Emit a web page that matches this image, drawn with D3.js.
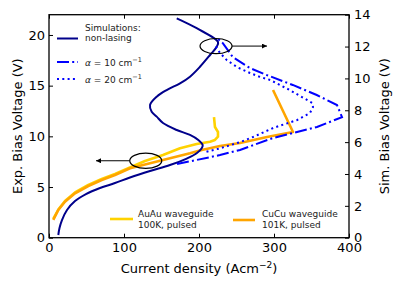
<!DOCTYPE html>
<html>
<head>
<meta charset="utf-8">
<script src="https://cdn.jsdelivr.net/npm/d3@7"></script>
<style>
body { margin: 0; background: #fff; }
text { font-family: 'DejaVu Sans', sans-serif; }
</style>
</head>
<body>
<script>
// current density (A/cm^2) vs bias voltage (V)
// simulations -> right axis, experiment -> left axis
var nonLasingJ = [12.4, 14.0, 17.3, 24.0, 34.7, 49.3, 68.0, 88.0, 108.0, 134.7, 161.3, 183.6, 196.9, 203.6, 204.9, 199.1, 188.0, 170.3, 152.0, 143.6, 136.9, 134.7, 143.6, 156.9, 174.7, 188.0, 201.3, 214.7, 223.6, 225.3, 196.9, 170.3];
var nonLasingV = [0.17, 0.61, 1.11, 1.74, 2.30, 2.74, 3.12, 3.43, 3.78, 4.19, 4.56, 4.97, 5.30, 5.61, 5.82, 6.13, 6.45, 6.76, 7.20, 7.60, 7.91, 8.33, 8.85, 9.27, 9.69, 10.11, 10.73, 11.47, 11.99, 12.29, 13.15, 13.77];

var alpha10J = [170.7, 196.9, 228, 254.7, 298.7, 325.3, 357.3, 390.7, 384, 357, 325, 291, 268, 245, 232, 225];
var alpha10V = [4.63, 4.88, 5.19, 5.51, 6.26, 6.57, 6.95, 7.57, 8.33, 8.96, 9.59, 10.2, 10.65, 11.34, 12.2, 12.5];

var alpha20J = [210, 228, 254.7, 272, 299, 331, 348, 352, 351, 321, 295, 281, 268, 251, 237, 228, 221];
var alpha20V = [5.4, 5.61, 6.0, 6.32, 6.89, 7.39, 7.83, 8.2, 8.46, 9.27, 9.9, 10.1, 10.34, 10.7, 11.15, 11.6, 12.1];

var auauJ = [5.7, 12.4, 21.3, 34.7, 52.4, 70.3, 88, 108, 128, 152, 174.7, 196.9, 214.7, 221.3, 225.3, 225.3, 221.3, 220];
var auauV = [1.85, 2.78, 3.62, 4.46, 5.2, 5.79, 6.28, 6.93, 7.57, 8.16, 8.82, 9.24, 9.47, 9.64, 9.96, 10.43, 10.92, 11.9];

var cucuJ = [5.7, 12.4, 21.3, 34.7, 52.4, 70.3, 88, 108, 134.7, 161.3, 188, 203.6, 228, 254.7, 290.7, 325.3, 298.7];
var cucuV = [1.75, 2.73, 3.55, 4.38, 5.1, 5.69, 6.19, 6.85, 7.34, 7.83, 8.33, 8.65, 9.05, 9.34, 9.93, 10.43, 14.57];

var xTicks = [0, 100, 200, 300, 400];
var leftTicks = [0, 5, 10, 15, 20];
var rightTicks = [0, 2, 4, 6, 8, 10, 12, 14];

var margin = {top: 14.7, right: 50, bottom: 50.3, left: 49},
    width = 399 - margin.left - margin.right,
    height = 288 - margin.top - margin.bottom;

var svg = d3.select('body').append('svg')
    .attr('width', 399)
    .attr('height', 288);

var g = svg.append('g')
    .attr('transform', 'translate(' + margin.left + ',' + margin.top + ')');

var x = d3.scaleLinear().domain([0, 400]).range([0, width]);
var yL = d3.scaleLinear().domain([0, 22]).range([height, 0]);
var yR = d3.scaleLinear().domain([0, 14]).range([height, 0]);

g.append('clipPath').attr('id', 'clip')
  .append('rect').attr('width', width).attr('height', height);

function pairs(a, b) {
  return a.map(function(d, i) { return [d, b[i]]; });
}

var lineL = d3.line().x(function(d){ return x(d[0]); }).y(function(d){ return yL(d[1]); });
var lineR = d3.line().x(function(d){ return x(d[0]); }).y(function(d){ return yR(d[1]); });
var smoothR = d3.line().curve(d3.curveCatmullRom.alpha(0.5))
  .x(function(d){ return x(d[0]); }).y(function(d){ return yR(d[1]); });

var plot = g.append('g').attr('clip-path', 'url(#clip)');

// experiment
plot.append('path')
  .attr('d', lineL(pairs(auauJ, auauV)))
  .attr('fill', 'none').attr('stroke', '#ffd200').attr('stroke-width', 2.6)
  .attr('stroke-linejoin', 'round');

plot.append('path')
  .attr('d', lineL(pairs(cucuJ, cucuV)))
  .attr('fill', 'none').attr('stroke', '#ffa500').attr('stroke-width', 2.6)
  .attr('stroke-linejoin', 'round');

// simulations
plot.append('path')
  .attr('d', smoothR(pairs(nonLasingJ, nonLasingV)))
  .attr('fill', 'none').attr('stroke', '#00008b').attr('stroke-width', 2);

plot.append('path')
  .attr('d', lineR(pairs(alpha10J, alpha10V)))
  .attr('fill', 'none').attr('stroke', '#0000ff').attr('stroke-width', 2)
  .attr('stroke-dasharray', '12,3.2,2,3.2');

plot.append('path')
  .attr('d', lineR(pairs(alpha20J, alpha20V)))
  .attr('fill', 'none').attr('stroke', '#0000ff').attr('stroke-width', 2)
  .attr('stroke-dasharray', '2,3.3');

// axes, ticks pointing in
var xAxis = d3.axisBottom(x).tickValues(xTicks).tickSizeInner(-4).tickSizeOuter(0).tickPadding(5);
var xTop = d3.axisTop(x).tickValues(xTicks).tickSizeInner(-4).tickSizeOuter(0).tickFormat('');
var leftAxis = d3.axisLeft(yL).tickValues(leftTicks).tickSizeInner(-4).tickSizeOuter(0).tickPadding(4);
var rightAxis = d3.axisRight(yR).tickValues(rightTicks).tickSizeInner(-4).tickSizeOuter(0).tickPadding(5);

g.append('g').attr('transform', 'translate(0,' + height + ')').call(xAxis);
g.append('g').call(xTop);
g.append('g').call(leftAxis);
g.append('g').attr('transform', 'translate(' + width + ',0)').call(rightAxis);

g.selectAll('.domain').remove();
g.selectAll('.tick line').attr('stroke', '#000').attr('stroke-width', 1);
g.selectAll('.tick text').attr('font-size', 13).attr('fill', '#000')
  .attr('font-family', "'DejaVu Sans', sans-serif");

g.append('rect')
  .attr('width', width).attr('height', height)
  .attr('fill', 'none').attr('stroke', '#000').attr('stroke-width', 1.3);

// axis titles
var xt = svg.append('text')
  .attr('x', margin.left + width / 2).attr('y', 273)
  .attr('text-anchor', 'middle').attr('font-size', 13);
xt.append('tspan').text('Current density (Acm');
xt.append('tspan').attr('dy', -5).attr('font-size', 9).text('\u22122');
xt.append('tspan').attr('dy', 5).text(')');

svg.append('text')
  .attr('transform', 'translate(22,' + (margin.top + height / 2) + ') rotate(-90)')
  .attr('text-anchor', 'middle').attr('font-size', 13)
  .text('Exp. Bias Voltage (V)');

svg.append('text')
  .attr('transform', 'translate(389,' + (margin.top + height / 2) + ') rotate(-90)')
  .attr('text-anchor', 'middle').attr('font-size', 13)
  .text('Sim. Bias Voltage (V)');

// ellipse + arrow annotations
svg.append('defs').append('marker')
  .attr('id', 'head').attr('viewBox', '0 0 10 10')
  .attr('refX', 10).attr('refY', 5)
  .attr('markerWidth', 7).attr('markerHeight', 5).attr('markerUnits', 'userSpaceOnUse')
  .attr('orient', 'auto')
  .append('path').attr('d', 'M0,0L10,5L0,10Z').attr('fill', '#000');

var topC = [x(222.7), yR(12.03)];
g.append('ellipse').attr('cx', topC[0]).attr('cy', topC[1]).attr('rx', 16).attr('ry', 7.6)
  .attr('fill', 'none').attr('stroke', '#000').attr('stroke-width', 1.2);
g.append('line').attr('x1', topC[0] + 16).attr('y1', topC[1]).attr('x2', x(290.7)).attr('y2', topC[1])
  .attr('stroke', '#000').attr('stroke-width', 1).attr('marker-end', 'url(#head)');

var botC = [x(129), yL(7.59)];
g.append('ellipse').attr('cx', botC[0]).attr('cy', botC[1]).attr('rx', 16).attr('ry', 7.6)
  .attr('fill', 'none').attr('stroke', '#000').attr('stroke-width', 1.2);
g.append('line').attr('x1', botC[0] - 16).attr('y1', botC[1]).attr('x2', x(62.7)).attr('y2', botC[1])
  .attr('stroke', '#000').attr('stroke-width', 1).attr('marker-end', 'url(#head)');

// legend: simulations
svg.append('text').attr('x', 85).attr('y', 30.5).attr('font-size', 9).attr('fill', '#222').text('Simulations:');
svg.append('text').attr('x', 85).attr('y', 41).attr('font-size', 9).attr('fill', '#222').text('non-lasing');
svg.append('line').attr('x1', 57).attr('x2', 78).attr('y1', 38.5).attr('y2', 38.5)
  .attr('stroke', '#00008b').attr('stroke-width', 2);

svg.append('line').attr('x1', 57).attr('x2', 78).attr('y1', 62).attr('y2', 62)
  .attr('stroke', '#0000ff').attr('stroke-width', 2).attr('stroke-dasharray', '12,3.2,2,3.2');
svg.append('line').attr('x1', 57).attr('x2', 78).attr('y1', 79).attr('y2', 79)
  .attr('stroke', '#0000ff').attr('stroke-width', 2).attr('stroke-dasharray', '2,3.3');

var alphaLabels = ['10', '20'];
svg.selectAll('.alab').data(alphaLabels).enter().append('text')
  .attr('class', 'alab')
  .attr('x', 85).attr('y', function(d, i){ return 65.5 + i * 17; })
  .attr('font-size', 9).attr('fill', '#222')
  .each(function(d) {
    var t = d3.select(this);
    t.append('tspan').attr('font-style', 'italic').text('\u03b1');
    t.append('tspan').text(' = ' + d + ' cm');
    t.append('tspan').attr('dy', -3.5).attr('font-size', 6.5).text('\u22121');
  });

// legend: experiment
svg.append('line').attr('x1', 110).attr('x2', 133).attr('y1', 219).attr('y2', 219)
  .attr('stroke', '#ffd200').attr('stroke-width', 2.6);
svg.append('text').attr('x', 138).attr('y', 217).attr('font-size', 9).attr('fill', '#222').text('AuAu waveguide');
svg.append('text').attr('x', 138).attr('y', 228).attr('font-size', 9).attr('fill', '#222').text('100K, pulsed');

svg.append('line').attr('x1', 233).attr('x2', 255).attr('y1', 220).attr('y2', 220)
  .attr('stroke', '#ffa500').attr('stroke-width', 2.6);
svg.append('text').attr('x', 262).attr('y', 217).attr('font-size', 9).attr('fill', '#222').text('CuCu waveguide');
svg.append('text').attr('x', 262).attr('y', 228).attr('font-size', 9).attr('fill', '#222').text('101K, pulsed');
</script>
</body>
</html>
